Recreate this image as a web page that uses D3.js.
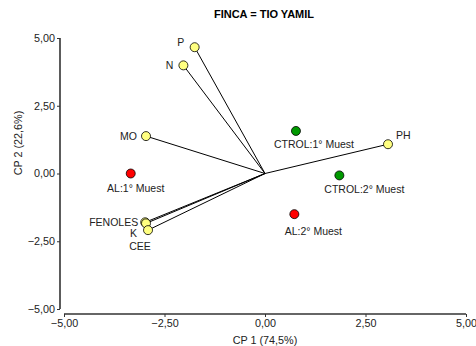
<!DOCTYPE html>
<html>
<head>
<style>
body{
    margin: 0;
    background: #fff;
}
text{
    font-family: "Liberation Sans", Arial, sans-serif;
}
</style>
</head>
<body>
<svg id="biplot"></svg>

<script src="https://cdn.jsdelivr.net/npm/d3@7"></script>
<script>
// variables (vectors from origin)
var varNames = ['P', 'N', 'MO', 'FENOLES', 'K', 'CEE', 'PH'];
var varCP1 = [-1.75, -2.03, -2.96, -2.98, -2.96, -2.91, 3.06];
var varCP2 = [4.66, 3.99, 1.38, -1.80, -1.84, -2.09, 1.08];

// observations
var obsNames = ['AL:1° Muest', 'AL:2° Muest', 'CTROL:1° Muest', 'CTROL:2° Muest'];
var obsCP1 = [-3.34, 0.73, 0.77, 1.85];
var obsCP2 = [0.00, -1.50, 1.57, -0.07];
var obsColor = ['#ff0000', '#ff0000', '#009900', '#009900'];

var ticks = [-5, -2.5, 0, 2.5, 5];

// label placement (pixels relative to the point)
var varLabelPos = [[-14, -5, 'middle'], [-10, 0, 'end'], [-9, 0, 'end'], [-7, 0, 'end'],
    [-9, 10, 'end'], [-8, 16, 'middle'], [8, -9, 'start']];
var obsLabelPos = [[5, 15, 'middle'], [19, 17, 'middle'], [18, 13, 'middle'], [25, 14, 'middle']];

var width = 476;
var height = 346;

var x = d3.scaleLinear().domain([-5, 5]).range([64, 466]);
var y = d3.scaleLinear().domain([-5, 5]).range([309, 38]);
var fmt = function (d) { return d3.format('.2f')(d).replace('.', ','); };

var svg = d3.select('#biplot')
    .attr('width', width)
    .attr('height', height);

svg.append('text')
    .attr('x', 264).attr('y', 18)
    .attr('text-anchor', 'middle')
    .attr('font-size', 11)
    .attr('font-weight', 'bold')
    .text('FINCA = TIO YAMIL');

// y axis
var yAxis = svg.append('g')
    .attr('transform', 'translate(60,0)')
    .call(d3.axisLeft(y).tickValues(ticks).tickFormat(fmt).tickSize(3).tickPadding(2));
// x axis
var xAxis = svg.append('g')
    .attr('transform', 'translate(0,314)')
    .call(d3.axisBottom(x).tickValues(ticks).tickFormat(fmt).tickSize(3).tickPadding(2));

[xAxis, yAxis].forEach(function (a) {
    a.select('.domain').attr('stroke', '#333').attr('stroke-width', 1.6)
        .attr('d', a === xAxis ? 'M64,0H466' : 'M0,38V309');
    a.selectAll('.tick line').attr('stroke', '#333');
    a.selectAll('.tick text').attr('font-size', 10.8).attr('fill', '#222')
        .attr('font-family', '"Liberation Sans", Arial, sans-serif');
});

svg.append('text')
    .attr('x', 265).attr('y', 344)
    .attr('text-anchor', 'middle')
    .attr('font-size', 10.8)
    .attr('fill', '#222')
    .text('CP 1 (74,5%)');

svg.append('text')
    .attr('transform', 'translate(22,143) rotate(-90)')
    .attr('text-anchor', 'middle')
    .attr('font-size', 10.8)
    .attr('fill', '#222')
    .text('CP 2 (22,6%)');

// vectors
svg.selectAll('.vec').data(varNames)
    .enter().append('line')
    .attr('class', 'vec')
    .attr('x1', x(0)).attr('y1', y(0))
    .attr('x2', function (d, i) { return x(varCP1[i]); })
    .attr('y2', function (d, i) { return y(varCP2[i]); })
    .attr('stroke', '#000')
    .attr('stroke-width', 1);

// observation points
svg.selectAll('.obs').data(obsNames)
    .enter().append('circle')
    .attr('class', 'obs')
    .attr('cx', function (d, i) { return x(obsCP1[i]); })
    .attr('cy', function (d, i) { return y(obsCP2[i]); })
    .attr('r', 4.5)
    .attr('fill', function (d, i) { return obsColor[i]; })
    .attr('stroke', '#000')
    .attr('stroke-width', 0.8);

svg.selectAll('.obslab').data(obsNames)
    .enter().append('text')
    .attr('class', 'obslab')
    .attr('x', function (d, i) { return x(obsCP1[i]) + obsLabelPos[i][0]; })
    .attr('y', function (d, i) { return y(obsCP2[i]) + obsLabelPos[i][1]; })
    .attr('dy', '0.35em')
    .attr('text-anchor', function (d, i) { return obsLabelPos[i][2]; })
    .attr('font-size', 10.5)
    .attr('fill', '#222')
    .text(function (d) { return d; });

// variable points
svg.selectAll('.var').data(varNames)
    .enter().append('circle')
    .attr('class', 'var')
    .attr('cx', function (d, i) { return x(varCP1[i]); })
    .attr('cy', function (d, i) { return y(varCP2[i]); })
    .attr('r', 4.5)
    .attr('fill', '#ffff80')
    .attr('stroke', '#000')
    .attr('stroke-width', 0.8);

svg.selectAll('.varlab').data(varNames)
    .enter().append('text')
    .attr('class', 'varlab')
    .attr('x', function (d, i) { return x(varCP1[i]) + varLabelPos[i][0]; })
    .attr('y', function (d, i) { return y(varCP2[i]) + varLabelPos[i][1]; })
    .attr('dy', '0.35em')
    .attr('text-anchor', function (d, i) { return varLabelPos[i][2]; })
    .attr('font-size', 10.5)
    .attr('fill', '#222')
    .text(function (d) { return d; });
</script>
</body>
</html>
